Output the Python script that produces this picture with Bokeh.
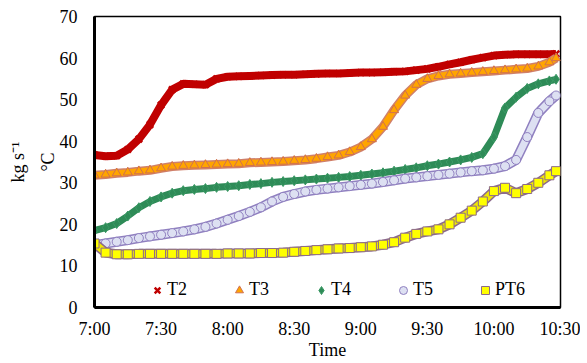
from bokeh.plotting import figure
from bokeh.models import Range1d, FixedTicker, Legend, LegendItem, LinearAxis
from bokeh.embed import file_html
from bokeh.resources import INLINE

# ---------------- data ----------------
TIME_MIN = [0, 5, 10, 15, 20, 25, 30, 35, 40, 45, 50, 55, 60, 65, 70, 75, 80, 85,
            90, 95, 100, 105, 110, 115, 120, 125, 130, 135, 140, 145, 150, 155,
            160, 165, 170, 175, 180, 185, 190, 195, 200, 205, 208]

T2 = [36.7, 36.4, 36.5, 38.0, 40.5, 44.0, 48.7, 52.4, 53.8, 53.7, 53.6, 55.0,
      55.5, 55.6, 55.7, 55.8, 55.9, 56.0, 56.0, 56.1, 56.2, 56.3, 56.3, 56.4,
      56.5, 56.5, 56.6, 56.7, 56.8, 57.1, 57.4, 57.9, 58.5, 59.0, 59.6, 60.1,
      60.6, 60.8, 60.9, 60.9, 60.9, 60.9, 61.0]

T3 = [31.8, 32.0, 32.3, 32.5, 32.8, 33.0, 33.5, 33.9, 34.1, 34.2, 34.3, 34.4,
      34.5, 34.6, 34.8, 34.9, 35.0, 35.1, 35.3, 35.5, 35.8, 36.2, 36.6, 37.4,
      38.6, 40.5, 43.5, 47.5, 51.0, 53.6, 55.0, 55.7, 56.1, 56.3, 56.5, 56.7,
      56.9, 57.1, 57.3, 57.5, 58.0, 59.0, 60.0]

T4 = [18.5, 19.2, 20.2, 22.0, 24.0, 25.5, 26.6, 27.5, 28.1, 28.4, 28.6, 28.9,
      29.1, 29.3, 29.6, 29.8, 30.1, 30.3, 30.5, 30.7, 30.9, 31.1, 31.3, 31.5,
      31.8, 32.1, 32.4, 32.8, 33.2, 33.6, 34.1, 34.5, 35.0, 35.5, 36.1, 37.0,
      41.0, 48.0, 50.6, 52.7, 53.8, 54.5, 54.9]

T5 = [15.0, 15.4, 15.8, 16.2, 16.7, 17.1, 17.5, 17.9, 18.3, 18.8, 19.4, 20.2,
      21.1, 22.0, 23.0, 24.1, 25.5, 26.6, 27.3, 27.9, 28.3, 28.6, 28.9, 29.2,
      29.5, 29.8, 30.2, 30.6, 31.0, 31.3, 31.6, 31.9, 32.2, 32.5, 32.8, 33.0,
      33.4, 34.0, 35.5, 41.0, 46.8, 49.6, 51.0]

PT6 = [15.4, 13.2, 12.8, 12.8, 12.9, 12.9, 12.9, 12.9, 12.9, 12.9, 12.9, 12.9,
       13.0, 13.0, 13.0, 13.1, 13.1, 13.2, 13.4, 13.6, 13.8, 14.0, 14.2, 14.3,
       14.5, 14.7, 15.1, 15.7, 16.8, 17.7, 18.3, 18.8, 20.0, 21.6, 23.3, 25.5,
       28.0, 28.8, 27.5, 28.5, 30.0, 31.8, 32.8]

X_TICKS = [0, 30, 60, 90, 120, 150, 180, 210]
X_TICK_LABELS = ["7:00", "7:30", "8:00", "8:30", "9:00", "9:30", "10:00", "10:30"]
Y_TICKS = [0, 10, 20, 30, 40, 50, 60, 70]

FONT = "Liberation Serif"

p = figure(width=580, height=363, output_backend="svg", toolbar_location=None,
           x_range=Range1d(0, 210), y_range=Range1d(0, 70),
           min_border_left=94, min_border_right=20, min_border_top=16,
           min_border_bottom=56)
p.grid.visible = False
p.background_fill_color = "white"
p.outline_line_color = "black"
p.outline_line_width = 1.5

for ax in (p.xaxis[0], p.yaxis[0]):
    ax.axis_line_width = 3
    ax.axis_line_color = "black"
    ax.major_tick_out = 0
    ax.major_tick_in = 0
    ax.minor_tick_out = 0
    ax.minor_tick_in = 0
    ax.major_label_text_font = FONT
    ax.major_label_text_font_size = "18px"
    ax.major_label_text_color = "black"
    ax.axis_label_text_font = FONT
    ax.axis_label_text_font_size = "18px"
    ax.axis_label_text_font_style = "normal"
    ax.axis_label_text_color = "black"

p.xaxis[0].ticker = FixedTicker(ticks=X_TICKS)
p.xaxis[0].major_label_overrides = {t: l for t, l in zip(X_TICKS, X_TICK_LABELS)}
p.xaxis[0].major_label_standoff = 11
p.xaxis[0].axis_label = "Time"
p.xaxis[0].axis_label_standoff = -2

p.yaxis[0].ticker = FixedTicker(ticks=Y_TICKS)
p.yaxis[0].major_label_standoff = 17
p.yaxis[0].axis_label = "°C"
p.yaxis[0].axis_label_standoff = -1

# outer left title "kg s⁻¹" carried by a bare extra axis
extra = LinearAxis(ticker=FixedTicker(ticks=[]), axis_line_color=None,
                   major_tick_out=0, major_tick_in=0, minor_tick_out=0,
                   minor_tick_in=0, major_label_standoff=0,
                   axis_label="kg s⁻¹", axis_label_standoff=7,
                   axis_label_text_font=FONT, axis_label_text_font_size="18px",
                   axis_label_text_font_style="normal",
                   axis_label_text_color="black")
p.add_layout(extra, "left")

items = []

# T2: red crosses
p.line(TIME_MIN, T2, line_color="#C00000", line_width=8)
r2 = p.scatter(TIME_MIN, T2, marker="x", size=9, line_color="#C00000", line_width=2.5)
items.append(LegendItem(label="T2", renderers=[r2]))

# T3: orange triangles
p.line(TIME_MIN, T3, line_color="#D0806A", line_width=9)
p.line(TIME_MIN, T3, line_color="#FFA500", line_width=6)
r3 = p.scatter(TIME_MIN, T3, marker="triangle", size=9, fill_color="#FFA500",
               line_color="#D07050", line_width=1)
items.append(LegendItem(label="T3", renderers=[r3]))

# T4: green diamonds
p.line(TIME_MIN, T4, line_color="#2E8B57", line_width=7)
r4 = p.scatter(TIME_MIN, T4, marker="diamond", size=10, fill_color="#2E8B57",
               line_color="#3C9A66", line_width=1)
items.append(LegendItem(label="T4", renderers=[r4]))

# T5: lavender circles
p.line(TIME_MIN, T5, line_color="#9080C0", line_width=10)
p.line(TIME_MIN, T5, line_color="#DDE0F2", line_width=7)
r5 = p.scatter(TIME_MIN, T5, marker="circle", size=9, fill_color="#DDE0F2",
               line_color="#9080C0", line_width=1)
items.append(LegendItem(label="T5", renderers=[r5]))

# PT6: yellow squares
p.line(TIME_MIN, PT6, line_color="#8C6A8C", line_width=10)
p.line(TIME_MIN, PT6, line_color="#F0E800", line_width=7)
r6 = p.scatter(TIME_MIN, PT6, marker="square", size=9, fill_color="#FFFF00",
               line_color="#8C6A8C", line_width=1)
items.append(LegendItem(label="PT6", renderers=[r6]))

legend = Legend(items=items, orientation="horizontal", location=(53, 7),
                label_text_font=FONT, label_text_font_size="18px",
                label_text_color="black", glyph_width=20, glyph_height=20,
                label_standoff=-3, spacing=42, padding=0, margin=0,
                border_line_color=None, background_fill_alpha=0,
                label_height=18)
p.add_layout(legend, "center")

open("out.html", "w").write(file_html(p, INLINE))
